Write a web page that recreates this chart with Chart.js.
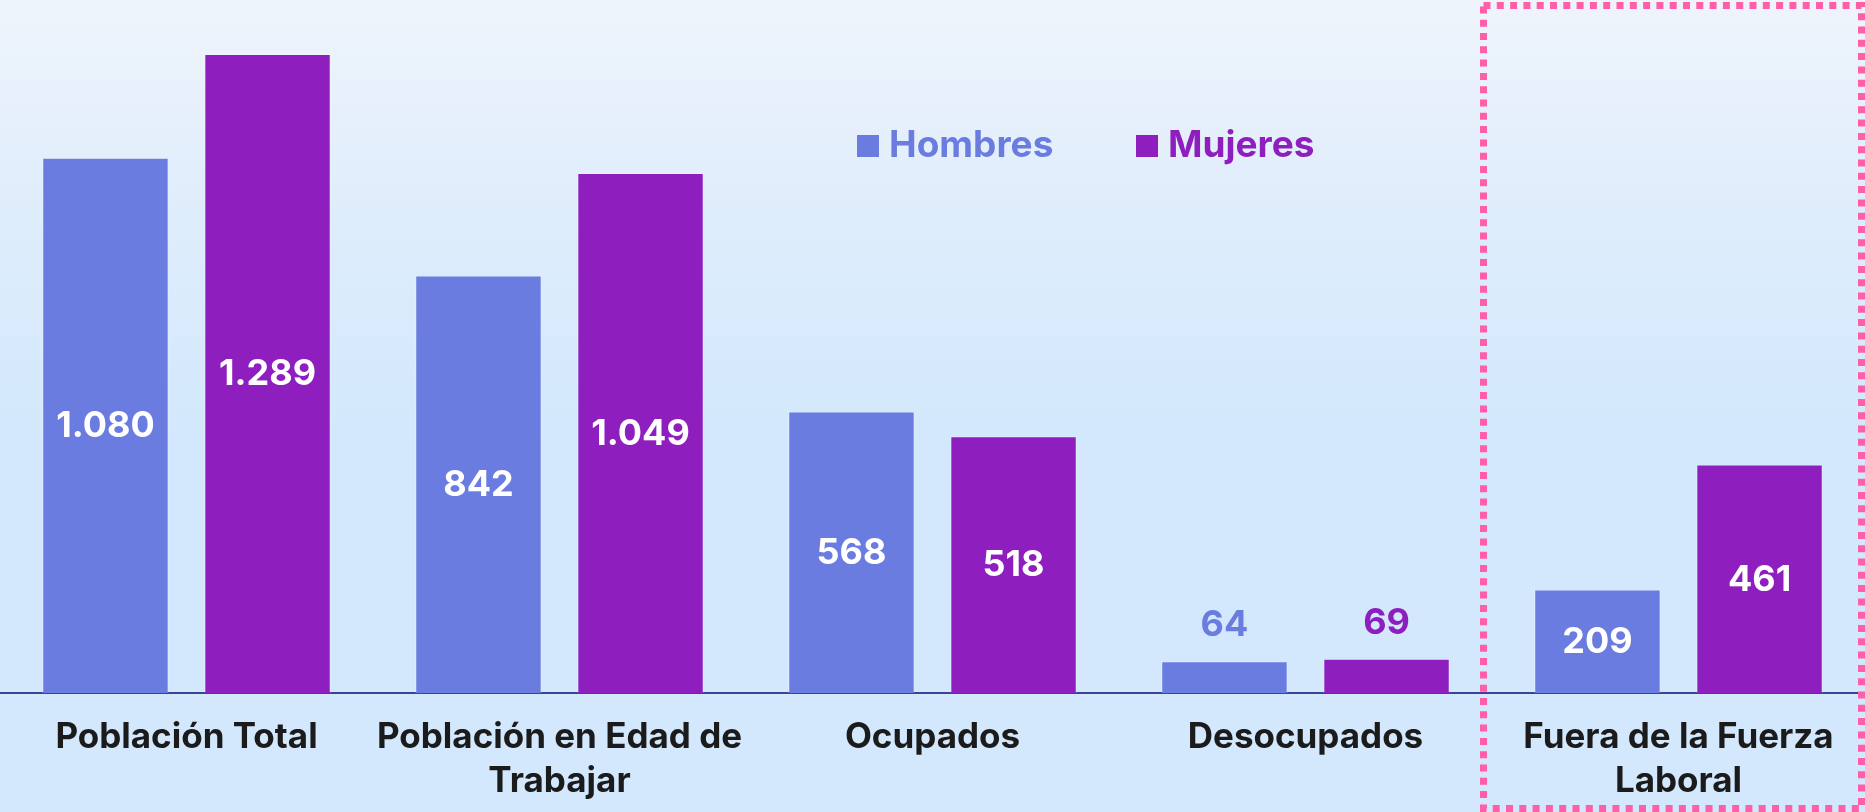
<!DOCTYPE html>
<html lang="es">
<head>
<meta charset="utf-8">
<title>Población por sexo</title>
<script src="https://cdn.jsdelivr.net/npm/chart.js@4.4.1/dist/chart.umd.min.js"></script>
<style>
  html, body { margin: 0; padding: 0; }
  body {
    width: 1865px; height: 812px; overflow: hidden;
    background: linear-gradient(180deg, #eff4fb 0%, #dcecfb 30%, #d3e8fd 55%, #d3e8fd 100%);
  }
  #wrap { position: relative; width: 1865px; height: 812px; }
</style>
</head>
<body>
<div id="wrap"><canvas id="chart"></canvas></div>
<script>
// Población total y condición laboral, por sexo (miles)

const categories = [
  'Población Total',
  ['Población en Edad de', 'Trabajar'],
  'Ocupados',
  'Desocupados',
  ['Fuera de la Fuerza', 'Laboral'],
];
const hombres = [1080, 842, 568, 64, 209];
const mujeres = [1289, 1049, 518, 69, 461];
const seriesNames = ['Hombres', 'Mujeres'];
const seriesColors = ['#6a7cdf', '#8f1ebf'];

const FONT = 'Inter, "Open Sans", sans-serif';

function fmt(v) {
  return v.toLocaleString('es-AR').replace(/,/g, '.');
}

// value labels: white inside tall bars, coloured above short ones
const valueLabels = {
  id: 'valueLabels',
  afterDatasetsDraw(chart) {
    const ctx = chart.ctx;
    ctx.save();
    ctx.font = `700 36px ${FONT}`;
    ctx.textAlign = 'center';
    ctx.textBaseline = 'middle';
    chart.data.datasets.forEach((ds, di) => {
      chart.getDatasetMeta(di).data.forEach((bar, i) => {
        const h = bar.base - bar.y;
        if (h > 80) {
          ctx.fillStyle = '#ffffff';
          ctx.fillText(fmt(ds.data[i]), bar.x, bar.y + h / 2 + 1);
        } else {
          ctx.fillStyle = ds.backgroundColor;
          ctx.fillText(fmt(ds.data[i]), bar.x, bar.y - 36);
        }
      });
    });
    ctx.restore();
  },
};

// legend drawn by hand in the upper middle
const customLegend = {
  id: 'customLegend',
  afterDraw(chart) {
    const ctx = chart.ctx;
    const starts = [857, 1136];
    ctx.save();
    ctx.font = `700 37px ${FONT}`;
    ctx.textBaseline = 'alphabetic';
    ctx.textAlign = 'left';
    chart.data.datasets.forEach((ds, i) => {
      ctx.fillStyle = ds.backgroundColor;
      ctx.fillRect(starts[i], 135, 22, 22);
      ctx.fillText(ds.label, starts[i] + 32, 157);
    });
    ctx.restore();
  },
};

// pink dotted frame around the last category
const highlightBox = {
  id: 'highlightBox',
  afterDraw(chart) {
    const x = chart.scales.x;
    const n = chart.data.labels.length;
    const half = x.width / n / 2;
    const c = x.getPixelForValue(n - 1);
    const ctx = chart.ctx;
    ctx.save();
    ctx.strokeStyle = '#ff5fa8';
    ctx.lineWidth = 7;
    ctx.setLineDash([7, 6.3]);
    ctx.lineCap = 'butt';
    ctx.strokeRect(c - half - 8.5, 5.5, half * 2 + 5, chart.height - 9);
    ctx.restore();
  },
};

new Chart(document.getElementById('chart'), {
  type: 'bar',
  data: {
    labels: categories,
    datasets: [
      { label: seriesNames[0], data: hombres, backgroundColor: seriesColors[0],
        borderColor: 'rgba(255,255,255,0.25)', borderWidth: 1 },
      { label: seriesNames[1], data: mujeres, backgroundColor: seriesColors[1],
        borderColor: 'rgba(255,255,255,0.25)', borderWidth: 1 },
    ],
  },
  options: {
    responsive: true,
    maintainAspectRatio: false,
    animation: false,
    layout: { padding: 0 },
    categoryPercentage: 0.869,
    barPercentage: 0.78,
    plugins: {
      legend: { display: false },
      tooltip: { enabled: false },
    },
    scales: {
      x: {
        grid: { display: false, drawTicks: false },
        border: { display: true, color: '#3a4494', width: 2 },
        ticks: {
          color: '#1b1b1b',
          font: { family: FONT, size: 35, weight: '700', lineHeight: 1.27 },
          padding: 22,
          maxRotation: 0,
          autoSkip: false,
        },
        afterFit(scale) { scale.height = 119; },
      },
      y: {
        display: false,
        min: 0,
        max: 1398,
      },
    },
  },
  plugins: [valueLabels, customLegend, highlightBox],
});
</script>
</body>
</html>
